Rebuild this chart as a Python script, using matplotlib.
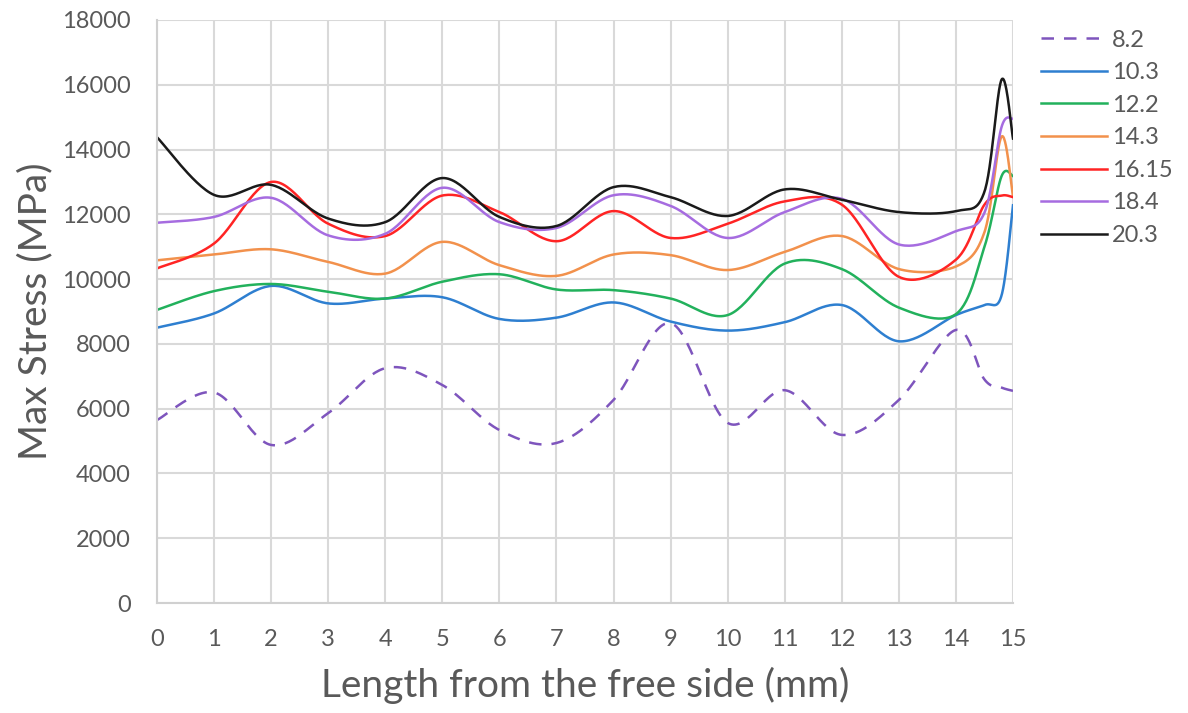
import numpy as np
import matplotlib
matplotlib.use("Agg")
import matplotlib.pyplot as plt

x = [0, 1, 2, 3, 4, 5, 6, 7, 8, 9, 10, 11, 12, 13, 14, 14.5, 14.8, 15]

labels = ["8.2", "10.3", "12.2", "14.3", "16.15", "18.4", "20.3"]
s82 = [5650, 6500, 4880, 5860, 7250, 6730, 5340, 4940, 6270, 8640, 5560, 6570, 5190, 6270, 8430, 6900, 6650, 6550]
s103 = [8500, 8940, 9790, 9250, 9400, 9440, 8770, 8810, 9280, 8690, 8410, 8670, 9200, 8080, 8890, 9200, 9500, 12280]
s122 = [9050, 9630, 9850, 9610, 9400, 9920, 10150, 9680, 9660, 9400, 8890, 10480, 10310, 9120, 8920, 11000, 13180, 13180]
s143 = [10580, 10760, 10920, 10530, 10170, 11150, 10430, 10100, 10760, 10740, 10280, 10840, 11330, 10310, 10390, 11450, 14400, 12550]
s1615 = [10330, 11100, 13000, 11710, 11330, 12580, 12070, 11170, 12100, 11270, 11710, 12400, 12300, 10070, 10600, 12300, 12580, 12530]
s184 = [11740, 11920, 12510, 11350, 11400, 12820, 11760, 11580, 12590, 12260, 11270, 12070, 12480, 11070, 11480, 12050, 14700, 14950]
s203 = [14380, 12600, 12910, 11870, 11760, 13120, 11920, 11640, 12840, 12530, 11950, 12770, 12450, 12070, 12100, 12700, 16160, 14340]

series = [s82, s103, s122, s143, s1615, s184, s203]
colors = ["#7e55bd", "#2e7fd0", "#22b15c", "#f2914c", "#ff2424", "#a66ce0", "#1a1a1a"]
styles = ["--", "-", "-", "-", "-", "-", "-"]

XMAX, YMAX = 15.0, 18000.0
W, H = 856.0, 583.0


def smooth(xs, ys, n=30):
    # Excel-like bezier smoothing, done in screen-proportional space
    P = np.column_stack([np.asarray(xs, float) / XMAX * W, np.asarray(ys, float) / YMAX * H])
    m = len(P)
    out = [P[0]]
    for i in range(m - 1):
        p0 = P[i - 1] if i > 0 else P[i]
        p1 = P[i]
        p2 = P[i + 1]
        p3 = P[i + 2] if i + 2 < m else P[i + 1]
        c1 = p1 + (p2 - p0) / 6.0
        c2 = p2 - (p3 - p1) / 6.0
        t = np.linspace(0, 1, n)[1:, None]
        b = (1 - t) ** 3 * p1 + 3 * (1 - t) ** 2 * t * c1 + 3 * (1 - t) * t ** 2 * c2 + t ** 3 * p2
        out.extend(b)
    out = np.array(out)
    return out[:, 0] / W * XMAX, out[:, 1] / H * YMAX


plt.rcParams['font.family'] = ['Lato', 'DejaVu Sans']
fig = plt.figure(figsize=(11.88, 7.13), dpi=100)
ax = fig.add_axes([157 / 1188, 1 - 603 / 713, (1013 - 157) / 1188, (603 - 20) / 713])

for ys, c, ls, lab in zip(series, colors, styles, labels):
    sx, sy = smooth(x, ys)
    if ls == "--":
        ax.plot(sx, sy, color=c, lw=1.8, ls=(0, (5, 4)), label=lab)
    else:
        ax.plot(sx, sy, color=c, lw=1.8, ls="-", label=lab)

ax.set_xlim(0, 15)
ax.set_ylim(0, 18000)
ax.set_xticks(range(0, 16))
ax.set_yticks(range(0, 18001, 2000))
ax.grid(True, color="#d9d9d9", lw=1.5)
ax.set_axisbelow(True)
for sp in ["top", "right"]:
    ax.spines[sp].set_visible(False)
for sp in ["left", "bottom"]:
    ax.spines[sp].set_color("#d0d0d0")
    ax.spines[sp].set_linewidth(1.5)
ax.tick_params(axis="both", length=0, labelsize=17, colors="#595959")
ax.tick_params(axis="y", pad=19)
ax.tick_params(axis="x", pad=19)
ax.set_xlabel("Length from the free side (mm)", fontsize=28, color="#595959", labelpad=12)
ax.set_ylabel("Max Stress (MPa)", fontsize=28, color="#595959", labelpad=6)

leg = ax.legend(loc="upper left", bbox_to_anchor=(1.008, 1.02), frameon=False, fontsize=17,
                handlelength=2.8, labelspacing=0.49, handletextpad=0.2, labelcolor="#595959")

fig.savefig("out.png", dpi=100)
